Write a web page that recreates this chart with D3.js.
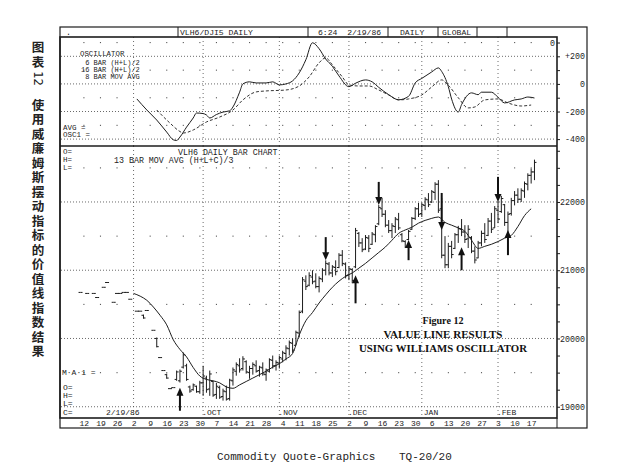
<!DOCTYPE html>
<html>
<head>
<meta charset="utf-8">
<script src="https://cdn.jsdelivr.net/npm/d3@7"></script>
<style>
  body { margin: 0; background: #fff; }
  svg { display: block; }
</style>
</head>
<body>
<svg id="chart" width="633" height="475"></svg>
<script>
// trading day index: 0 = Monday Aug 12 1985, 5 trading days per week
const weekLabels = ["12","19","26","2","9","16","23","30","7","14","21","28","4","11","18","25","2","9","16","23","30","6","13","20","27","3","10","17"];
const monthLabels = [".OCT", ".NOV", ".DEC", "JAN", ".FEB"];
const monthDays = [36, 59, 80, 102, 125];
const monthLines = [15, 36, 59, 80, 102, 125];

const barDay = [-1,1,3,4,6,7,9,10,11,12,13,14,16,17,18,19,21,22,23,24,25,26,27,28,29,30,31,32,33,34,35,36,37,38,39,40,41,42,43,44,45,46,47,48,49,50,51,52,53,54,55,56,57,58,59,60,61,62,63,64,65,66,67,68,69,70,71,72,73,74,75,76,77,78,79,80,81,82,83,84,85,86,87,88,89,90,91,92,93,94,95,96,97,98,99,100,101,102,103,104,105,106,107,108,109,110,111,112,113,114,115,116,117,118,119,120,121,122,123,124,125,126,127,128,129,130,131,132,133,134,135,136];
const barHigh = [20675,20660,20660,20600,20750,20820,20530,20660,20660,20675,20675,20575,20400,20400,20350,20410,20120,20015,19720,19530,19485,19265,19280,19530,19545,19795,19630,19310,19340,19310,19380,19600,19455,19530,19380,19350,19310,19265,19310,19410,19575,19650,19710,19740,19680,19600,19650,19680,19600,19650,19560,19710,19750,19680,19750,19820,19900,19970,20000,20115,20410,20900,20925,20970,21000,20955,20910,21030,21145,21120,21075,21145,21250,21295,21115,21060,21030,21620,21560,21470,21515,21515,21560,21660,21955,22060,21880,21735,21690,21780,21840,21545,21440,21590,21780,21925,21985,21985,22070,22130,22175,22290,22320,22060,21500,21400,21430,21545,21650,21750,21660,21660,21500,21350,21430,21580,21690,21765,21840,21940,22015,22090,21970,21860,22060,22160,22200,22200,22300,22420,22490,22620];
const barLow = [20675,20660,20660,20600,20750,20820,20530,20660,20660,20675,20675,20575,20400,20400,20290,20410,20120,19870,19720,19530,19410,19265,19280,19380,19355,19560,19380,19205,19235,19205,19190,19160,19205,19160,19145,19115,19115,19090,19090,19090,19310,19455,19500,19530,19485,19410,19470,19500,19440,19455,19380,19500,19560,19530,19560,19650,19680,19750,19790,19900,20015,20370,20710,20765,20795,20735,20675,20825,20925,20925,20900,20925,21030,21060,20880,20855,20810,21030,21340,21265,21295,21265,21370,21410,21660,21780,21630,21545,21470,21545,21590,21410,21325,21440,21590,21735,21780,21780,21880,21925,21985,22030,21840,21175,21030,21030,21175,21310,21400,21500,21400,21325,21250,21100,21175,21350,21400,21500,21545,21620,21690,21840,21650,21500,21800,21950,21985,22000,22060,22170,22270,22320];
const barOpen = [20675,20660,20660,20600,20750,20820,20530,20660,20660,20675,20675,20575,20400,20400,20340,20410,20120,20000,19720,19530,19470,19265,19280,19400,19380,19580,19600,19290,19250,19300,19220,19350,19420,19260,19370,19180,19280,19150,19220,19120,19380,19520,19600,19560,19660,19500,19560,19600,19530,19570,19470,19520,19680,19600,19640,19700,19780,19850,19930,19900,20080,20400,20840,20780,20900,20840,20760,20870,21000,21090,20960,21040,21040,21220,21090,20930,21010,21050,21540,21400,21310,21470,21380,21520,21680,21900,21820,21660,21580,21640,21740,21520,21420,21450,21600,21760,21900,21830,21950,22030,22000,22140,22260,21900,21220,21080,21350,21320,21520,21600,21560,21460,21480,21280,21180,21400,21540,21510,21720,21620,21880,21860,21960,21700,21830,22020,22100,22040,22160,22260,22390,22440];
const barClose = [20675,20660,20660,20600,20750,20820,20530,20660,20660,20675,20675,20575,20400,20400,20300,20410,20120,19880,19720,19530,19420,19265,19280,19510,19520,19760,19400,19230,19320,19220,19350,19450,19250,19480,19170,19300,19140,19230,19110,19390,19540,19620,19540,19700,19510,19560,19620,19520,19580,19480,19540,19690,19600,19650,19720,19790,19860,19940,19830,20090,20380,20860,20760,20920,20830,20760,20880,21000,21100,20960,21050,20980,21220,21100,20920,21020,20850,21580,21400,21300,21480,21320,21530,21640,21920,21820,21660,21580,21650,21750,21620,21430,21340,21570,21760,21900,21820,21960,22040,21960,22150,22260,21880,21220,21080,21350,21230,21520,21610,21560,21450,21600,21280,21150,21400,21540,21450,21720,21600,21900,21750,22050,21700,21820,22020,22100,22040,22170,22270,22390,22440,22580];

// 13 bar moving average (H+L+C)/3
const maDays = [15,17,19,21,23,25,27,29,31,33,35,37,39,41,43,45,47,49,51,53,55,57,59,61,63,65,67,69,71,73,75,77,79,81,83,85,87,89,91,93,95,97,99,101,103,105,107,109,111,113,115,117,119,121,123,125,127,129,131,133,135];
const maValues = [20660,20620,20560,20460,20340,20200,19980,19840,19730,19575,19450,19400,19380,19350,19290,19270,19320,19370,19420,19470,19520,19580,19630,19700,19780,20050,20260,20380,20520,20640,20750,20840,20910,20960,21030,21100,21180,21260,21340,21440,21540,21590,21630,21690,21730,21760,21780,21700,21660,21620,21570,21440,21320,21350,21380,21420,21470,21510,21640,21800,21900];

// oscillator: fast (solid) and its 8 bar average (dashed)
const oscDays = [16,19,22,25,27,28,29,31,33,34,36,37,38,40,42,44,45,47,48,50,52,55,57,59,61,63,65,67,69,71,73,75,77,80,82,85,87,89,92,95,98,100,102,105,107,108,110,111,113,114,117,119,120,123,125,127,130,132,134,136];
const oscValues = [-109,-189,-262,-349,-405,-410,-385,-313,-247,-211,-215,-225,-247,-222,-204,-195,-167,-60,0,15,7,7,15,-7,0,22,80,175,298,255,180,128,58,-20,5,29,15,-25,-78,-115,-90,7,40,87,116,90,-20,-110,-204,-150,-65,-78,-60,-60,-97,-138,-116,-109,-95,-102];
const avgDays = [22,26,29,30,33,37,41,45,48,52,55,61,65,68,71,73,75,78,80,83,86,89,92,95,98,102,105,108,110,113,116,118,121,125,128,132,135];
const avgValues = [-189,-284,-345,-356,-334,-276,-240,-189,-116,-58,-51,-44,-15,51,153,189,138,51,-7,-15,-15,-44,-80,-116,-109,-80,-22,29,-10,-100,-174,-167,-116,-109,-138,-160,-153];

// signal arrows (day, from price, to price)
const sellDays = [73, 89, 108, 125];
const sellFrom = [21485, 22294, 22132, 22368];
const sellTo = [21147, 21956, 21588, 22000];
const buyDays = [29, 82, 98, 114, 128];
const buyFrom = [18941, 20515, 21147, 21000, 21221];
const buyTo = [19279, 20926, 21441, 21338, 21588];

const oscTicks = [-400, -300, -200, -100, 0, 100, 200, 300];
const priceTicks = [19000, 19250, 19500, 19750, 20000, 20250, 20500, 20750, 21000, 21250, 21500, 21750, 22000, 22250, 22500, 22750];

const titleHead = "图表";
const titleNum = "12";
const titleBody = "使用威廉姆斯摆动指标的价值线指数结果";

const mono = "'Liberation Mono','DejaVu Sans Mono',monospace";
const ink = "#1d1d1d";

const svg = d3.select("#chart");

const x = d3.scaleLinear().domain([-7.2, 142.8]).range([60, 557]);
const yOsc = d3.scaleLinear().domain([-450, 340]).range([146, 37]);
const yMain = d3.scaleLinear().domain([18835, 22820]).range([418, 146]);

function label(txt, px, py, size, anchor) {
  return svg.append("text")
    .attr("x", px)
    .attr("y", py)
    .attr("font-family", mono)
    .attr("font-size", size || 8.3)
    .attr("text-anchor", anchor || "start")
    .attr("fill", ink)
    .attr("xml:space", "preserve")
    .text(txt);
}

// ---- grids ----
function drawGrid(yScale, major, minor, top, bottom) {
  const g = svg.append("g");
  g.selectAll(".hline").data(major).enter()
    .append("line")
    .attr("x1", 61).attr("x2", 556)
    .attr("y1", d => yScale(d)).attr("y2", d => yScale(d))
    .attr("stroke", "#444")
    .attr("stroke-width", 0.8)
    .attr("stroke-dasharray", "1,2");

  g.selectAll(".vline").data(monthLines).enter()
    .append("line")
    .attr("x1", d => x(d)).attr("x2", d => x(d))
    .attr("y1", top).attr("y2", bottom)
    .attr("stroke", "#444")
    .attr("stroke-width", 0.8)
    .attr("stroke-dasharray", "1,3");

  const weekDays = weekLabels.map((d, k) => k * 5).filter(d => !monthLines.includes(d));
  const dots = [];
  weekDays.forEach(d => minor.forEach(v => dots.push([d, v])));
  g.selectAll(".dot").data(dots).enter()
    .append("rect")
    .attr("x", d => x(d[0]) - 0.5)
    .attr("y", d => yScale(d[1]) - 0.5)
    .attr("width", 1.1)
    .attr("height", 1.1)
    .attr("fill", "#555");
}

drawGrid(yOsc, [200, 0, -200, -400], [300, 100, -100, -300], 37, 146);
drawGrid(yMain, [22000, 21000, 20000, 19000], [22500, 21500, 20500, 19500], 146, 418);

// ---- frames ----
svg.append("rect")
  .attr("x", 60).attr("y", 27)
  .attr("width", 527).attr("height", 401)
  .attr("fill", "none").attr("stroke", ink).attr("stroke-width", 1.2);

svg.append("rect")
  .attr("x", 60).attr("y", 37)
  .attr("width", 497).attr("height", 381)
  .attr("fill", "none").attr("stroke", ink).attr("stroke-width", 1.6);

svg.append("line")
  .attr("x1", 60).attr("x2", 557)
  .attr("y1", 146).attr("y2", 146)
  .attr("stroke", ink).attr("stroke-width", 1.6);

svg.append("line")
  .attr("x1", 557).attr("x2", 557)
  .attr("y1", 418).attr("y2", 428)
  .attr("stroke", ink).attr("stroke-width", 1);

[178, 308, 388, 438, 477, 507].forEach(sx => {
  svg.append("line")
    .attr("x1", sx).attr("x2", sx)
    .attr("y1", 27).attr("y2", 37)
    .attr("stroke", ink).attr("stroke-width", 1);
});

// header
label(".", 66, 35);
label("VLH6/DJI5 DAILY", 180, 35, 8.1);
label("6:24  2/19/86", 318, 35, 8.1);
label("DAILY", 400, 35, 8.1);
label("GLOBAL", 442, 35, 8.1);

// ---- right axes ----
const oscAxis = svg.append("g")
  .attr("transform", "translate(557,0)")
  .call(d3.axisRight(yOsc)
    .tickValues(oscTicks)
    .tickSize(3)
    .tickFormat(d => d % 200 === 0 ? (d > 0 ? "+" + d : String(d)) : ""));

const priceAxis = svg.append("g")
  .attr("transform", "translate(557,0)")
  .call(d3.axisRight(yMain)
    .tickValues(priceTicks)
    .tickSize(3)
    .tickFormat(d => d % 1000 === 0 ? String(d) : ""));

[oscAxis, priceAxis].forEach(a => {
  a.select(".domain").remove();
  a.selectAll("line").attr("stroke", ink);
  a.selectAll("text")
    .attr("x", 28)
    .attr("text-anchor", "end")
    .attr("font-family", mono)
    .attr("font-size", 8.3)
    .attr("fill", ink);
});

label("0", 555, 46, 8.3, "end");

// ---- bottom date axis ----
const dateAxis = svg.append("g")
  .attr("transform", "translate(0,418)")
  .call(d3.axisBottom(x)
    .tickValues(weekLabels.map((d, k) => k * 5))
    .tickFormat((d, k) => weekLabels[k])
    .tickSize(0)
    .tickPadding(2));
dateAxis.select(".domain").remove();
dateAxis.selectAll("text")
  .attr("font-family", mono)
  .attr("font-size", 8)
  .attr("fill", ink);

monthDays.forEach((d, k) => {
  label(monthLabels[k], x(d) - (monthLabels[k][0] === "." ? 1 : -2), 415, 8);
});
label("2/19/86", 106, 415, 8);

// ---- oscillator ----
const oscLine = d3.line()
  .x(d => x(d[0]))
  .y(d => yOsc(d[1]))
  .curve(d3.curveMonotoneX);

svg.append("path")
  .datum(oscDays.map((d, k) => [d, oscValues[k]]))
  .attr("d", oscLine)
  .attr("fill", "none")
  .attr("stroke", ink)
  .attr("stroke-width", 1);

svg.append("path")
  .datum(avgDays.map((d, k) => [d, avgValues[k]]))
  .attr("d", oscLine)
  .attr("fill", "none")
  .attr("stroke", ink)
  .attr("stroke-width", 0.9)
  .attr("stroke-dasharray", "3,2");

label("OSCILLATOR", 80, 56, 7.4);
label(" 6 BAR (H+L)/2", 81, 64.5, 7);
label("16 BAR (H+L)/2", 81, 72, 7);
label(" 8 BAR MOV AVG", 81, 79, 7);
label("AVG =", 63, 130, 7.5);
label("OSC1 =", 63, 137, 7.5);

// ---- price bars ----
const bars = barDay.map((d, k) => ({
  day: d, open: barOpen[k], high: barHigh[k], low: barLow[k], close: barClose[k]
}));

const barG = svg.append("g").attr("stroke", ink).attr("stroke-width", 1);

barG.selectAll(".hl").data(bars.filter(b => b.high > b.low)).enter()
  .append("line")
  .attr("x1", d => x(d.day)).attr("x2", d => x(d.day))
  .attr("y1", d => yMain(d.high)).attr("y2", d => yMain(d.low));

barG.selectAll(".op").data(bars).enter()
  .append("line")
  .attr("x1", d => x(d.day) - 2).attr("x2", d => x(d.day))
  .attr("y1", d => yMain(d.open)).attr("y2", d => yMain(d.open));

barG.selectAll(".cl").data(bars).enter()
  .append("line")
  .attr("x1", d => x(d.day)).attr("x2", d => x(d.day) + 2)
  .attr("y1", d => yMain(d.close)).attr("y2", d => yMain(d.close));

svg.append("path")
  .datum(maDays.map((d, k) => [d, maValues[k]]))
  .attr("d", d3.line().x(d => x(d[0])).y(d => yMain(d[1])).curve(d3.curveMonotoneX))
  .attr("fill", "none")
  .attr("stroke", ink)
  .attr("stroke-width", 1);

// ---- arrows ----
function arrow(day, from, to) {
  const ax = x(day);
  const y0 = yMain(from);
  const y1 = yMain(to);
  const dir = y1 > y0 ? 1 : -1;
  svg.append("line")
    .attr("x1", ax).attr("x2", ax)
    .attr("y1", y0).attr("y2", y1 - dir * 5)
    .attr("stroke", "#111")
    .attr("stroke-width", 2);
  svg.append("path")
    .attr("d", `M${ax},${y1} L${ax - 3.5},${y1 - dir * 8} L${ax + 3.5},${y1 - dir * 8} Z`)
    .attr("fill", "#111");
}
sellDays.forEach((d, k) => arrow(d, sellFrom[k], sellTo[k]));
buyDays.forEach((d, k) => arrow(d, buyFrom[k], buyTo[k]));

// ---- main panel labels ----
label("O=", 63, 154, 7.5);
label("H=", 63, 162, 7.5);
label("L=", 63, 170, 7.5);
label("VLH6 DAILY BAR CHART", 178, 155);
label("13 BAR MOV AVG (H+L+C)/3", 114, 163);
label("M·A·1 =", 62, 375, 8);
label("O=", 63, 390, 8);
label("H=", 63, 398, 8);
label("L=", 63, 406, 8);
label("C=", 63, 415, 8);

const caption = [
  { t: "Figure 12", y: 324, len: 41 },
  { t: "VALUE LINE RESULTS", y: 338, len: 119 },
  { t: "USING WILLIAMS OSCILLATOR", y: 352, len: 168 }
];
caption.forEach(c => {
  svg.append("text")
    .attr("x", 443).attr("y", c.y)
    .attr("text-anchor", "middle")
    .attr("font-family", "'Liberation Serif','DejaVu Serif',serif")
    .attr("font-weight", "bold")
    .attr("font-size", 11)
    .attr("textLength", c.len)
    .attr("lengthAdjust", "spacingAndGlyphs")
    .attr("fill", "#111")
    .text(c.t);
});

// ---- vertical Chinese title ----
const cjk = "'Noto Sans CJK SC','Noto Sans CJK TC',sans-serif";
function verticalText(txt, top, spacing) {
  svg.append("text")
    .attr("x", 38).attr("y", top)
    .style("writing-mode", "vertical-rl")
    .attr("font-family", cjk)
    .attr("font-weight", "bold")
    .attr("font-size", 12.5)
    .attr("letter-spacing", spacing)
    .attr("fill", "#222")
    .text(txt);
}
verticalText(titleHead, 41, 2.5);
svg.append("text")
  .attr("transform", "translate(38,78.5) rotate(90)")
  .attr("text-anchor", "middle")
  .attr("dominant-baseline", "central")
  .attr("font-family", "'DejaVu Sans',sans-serif")
  .attr("font-size", 11.5)
  .attr("fill", "#222")
  .text(titleNum);
verticalText(titleBody, 98.5, 2);

// ---- footer ----
label("Commodity Quote-Graphics", 217, 460, 11);
label("TQ-20/20", 399, 460, 11);
</script>
</body>
</html>
